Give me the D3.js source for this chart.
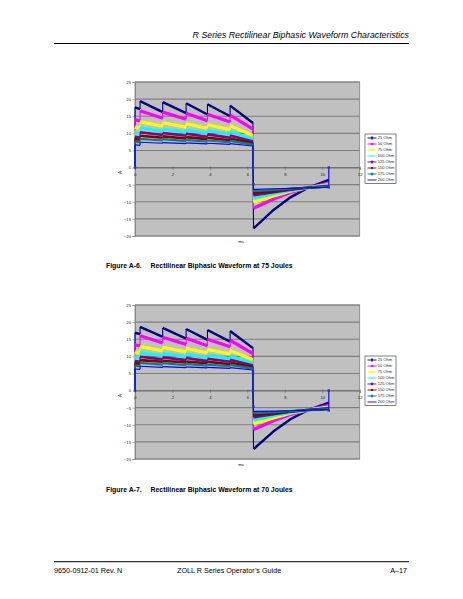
<!DOCTYPE html>
<html>
<head>
<meta charset="utf-8">
<script src="https://cdn.jsdelivr.net/npm/d3@7"></script>
<style>
  body { margin: 0; background: #fff; }
  svg { display: block; font-family: "Liberation Sans", Arial, sans-serif; }
</style>
</head>
<body>
<div id="page"></div>
<script>
// Series and axis data
const seriesNames = ["25 Ohm", "50 Ohm", "75 Ohm", "100 Ohm", "125 Ohm", "150 Ohm", "175 Ohm", "200 Ohm"];
const xTicks = [0, 2, 4, 6, 8, 10, 12];
const yTicks = [25, 20, 15, 10, 5, 0, -5, -10, -15, -20];

// vertex times (ms) of the positive phase sawtooth and of the negative phase
const posTimes = [0, 0.27, 0.27, 1.48, 1.48, 2.73, 2.73, 3.87, 3.87, 5.08, 5.08, 6.3];
const negTimes = [6.33, 7.4, 8.3, 9.2, 10.35];

// 75 Joules, current (A) at each vertex
const pos75 = [
  [17.6, 17.1, 19.4, 16.2, 19.1, 15.9, 18.8, 15.5, 18.5, 15.0, 18.1, 13.0],
  [14.0, 13.6, 16.6, 14.4, 16.2, 14.1, 15.9, 13.7, 15.6, 13.3, 15.3, 11.2],
  [11.8, 11.5, 13.4, 12.1, 13.1, 11.8, 12.8, 11.5, 12.5, 11.1, 12.2, 9.4],
  [10.2, 10.0, 11.6, 10.6, 11.3, 10.3, 11.0, 10.0, 10.8, 9.7, 10.5, 8.3],
  [9.0, 8.8, 10.3, 9.5, 10.1, 9.3, 9.9, 9.0, 9.7, 8.7, 9.4, 7.6],
  [8.3, 8.1, 9.3, 8.7, 9.1, 8.5, 8.9, 8.3, 8.7, 8.0, 8.5, 7.1],
  [7.5, 7.4, 8.4, 7.9, 8.3, 7.7, 8.1, 7.6, 7.9, 7.4, 7.8, 6.7],
  [6.6, 6.5, 7.4, 7.1, 7.3, 7.0, 7.2, 6.9, 7.1, 6.8, 7.0, 6.3],
];
const neg75 = [
  [-17.8, -12.4, -8.7, -6.0, -3.6],
  [-11.9, -9.2, -7.3, -5.9, -4.6],
  [-10.1, -8.3, -6.9, -5.9, -5.0],
  [-9.0, -7.7, -6.7, -5.9, -5.2],
  [-8.1, -7.2, -6.5, -5.9, -5.4],
  [-7.5, -6.9, -6.3, -5.9, -5.5],
  [-6.9, -6.5, -6.2, -5.9, -5.6],
  [-6.4, -6.2, -6.1, -5.9, -5.8],
];
const marks75 = [[0, 0], [6.3, 5.2], [6.3, 0], [6.33, -4.9], [10.35, -5.8], [10.35, 0]];

// 70 Joules
const pos70 = [
  [16.9, 16.5, 18.6, 15.7, 18.3, 15.2, 18.0, 14.8, 17.7, 14.3, 17.4, 12.4],
  [13.4, 13.0, 16.0, 13.9, 15.6, 13.5, 15.3, 13.1, 15.0, 12.8, 14.7, 10.8],
  [11.3, 11.0, 12.9, 11.6, 12.6, 11.3, 12.3, 11.0, 12.0, 10.7, 11.7, 9.0],
  [9.8, 9.6, 11.1, 10.2, 10.9, 9.9, 10.6, 9.6, 10.4, 9.3, 10.1, 8.0],
  [8.6, 8.4, 9.9, 9.1, 9.7, 8.9, 9.5, 8.6, 9.3, 8.4, 9.0, 7.3],
  [8.0, 7.8, 8.9, 8.4, 8.7, 8.2, 8.5, 8.0, 8.4, 7.7, 8.2, 6.8],
  [7.2, 7.1, 8.1, 7.6, 8.0, 7.4, 7.8, 7.3, 7.6, 7.1, 7.5, 6.4],
  [6.3, 6.2, 7.1, 6.8, 7.0, 6.7, 6.9, 6.6, 6.8, 6.5, 6.7, 6.0],
];
const neg70 = [
  [-17.1, -11.9, -8.4, -5.8, -3.5],
  [-11.4, -8.8, -7.0, -5.7, -4.4],
  [-9.7, -8.0, -6.6, -5.7, -4.8],
  [-8.6, -7.4, -6.4, -5.7, -5.0],
  [-7.8, -6.9, -6.2, -5.7, -5.2],
  [-7.2, -6.6, -6.1, -5.7, -5.3],
  [-6.6, -6.3, -6.0, -5.7, -5.4],
  [-6.1, -6.0, -5.9, -5.7, -5.6],
];
const marks70 = [[0, 0], [6.3, 5.5], [6.3, 0], [6.33, -4.7], [10.35, -5.8], [10.35, 0]];

// Excel-style look
const colors = ["#000080", "#ff00ff", "#ffff00", "#00ffff", "#800080", "#800000", "#008080", "#0000ff"];
const widths = [2.4, 3.2, 3.2, 3, 2.6, 2.6, 2.2, 1.2];
const markerTypes = [d3.symbolDiamond, d3.symbolSquare, d3.symbolTriangle, d3.symbolX, d3.symbolStar, d3.symbolCircle, d3.symbolCross, null];

const W = 463, H = 599;
const svg = d3.select("#page").append("svg").attr("width", W).attr("height", H);

// Page header
svg.append("text")
  .attr("x", 409).attr("y", 38)
  .attr("text-anchor", "end")
  .style("font-size", "8.8px").style("font-style", "italic")
  .text("R Series Rectilinear Biphasic Waveform Characteristics");
svg.append("line").attr("x1", 54).attr("x2", 409).attr("y1", 43.5).attr("y2", 43.5)
  .attr("stroke", "#000").attr("stroke-width", 1);

function drawChart(top, pos, neg, marks, legendTop, caption, captionY) {
  const x = d3.scaleLinear().domain([0, 12]).range([135, 359.7]);
  const y = d3.scaleLinear().domain([-20, 25]).range([top + 154, top]);
  const g = svg.append("g");

  // plot area
  g.append("rect")
    .attr("x", x(0)).attr("y", y(25))
    .attr("width", x(12) - x(0)).attr("height", y(-20) - y(25))
    .attr("fill", "#c0c0c0").attr("stroke", "#808080").attr("stroke-width", 0.8);

  // gridlines
  g.selectAll(".grid").data(yTicks).enter().append("line")
    .attr("x1", x(0)).attr("x2", x(12))
    .attr("y1", (d) => y(d)).attr("y2", (d) => y(d))
    .attr("stroke", "#7f7f7f").attr("stroke-width", 1.1);

  // y axis
  const yAxis = g.append("g")
    .attr("transform", `translate(${x(0)},0)`)
    .call(d3.axisLeft(y).tickValues(yTicks).tickSize(2.5).tickPadding(1.5));
  yAxis.select(".domain").attr("stroke", "#808080").attr("stroke-width", 0.8);
  yAxis.selectAll(".tick line").attr("stroke", "#808080").attr("stroke-width", 0.6);
  yAxis.selectAll("text").style("font-size", "4.2px").style("fill", "#222")
    .style("font-family", "Liberation Sans, Arial, sans-serif");

  // x axis across y = 0
  const xAxis = g.append("g")
    .attr("transform", `translate(0,${y(0)})`)
    .call(d3.axisBottom(x).tickValues(xTicks).tickSize(2.5).tickPadding(2.5));
  xAxis.select(".domain").attr("stroke", "#666").attr("stroke-width", 0.8);
  xAxis.selectAll(".tick line").attr("stroke", "#666").attr("stroke-width", 0.6)
    .attr("y1", -1.2);
  xAxis.selectAll("text").style("font-size", "4.2px").style("fill", "#222")
    .style("font-family", "Liberation Sans, Arial, sans-serif");

  // axis titles
  g.append("text")
    .attr("transform", `translate(122,${y(0) + 5}) rotate(-90)`)
    .attr("text-anchor", "middle")
    .style("font-size", "4.5px").text("A");
  g.append("text")
    .attr("x", 241).attr("y", top + 161)
    .attr("text-anchor", "middle")
    .style("font-size", "4.2px").text("ms");

  // series: vertices, then split into segments (vertical jumps drawn thin)
  const seriesPts = seriesNames.map((name, i) => {
    const pts = [
      [0, 0],
      ...posTimes.map((t, j) => [t, pos[i][j]]),
      [6.3, 0],
      ...negTimes.map((t, j) => [t, neg[i][j]]),
    ];
    if (i === seriesNames.length - 1) pts.push([10.35, 0]);
    return pts;
  });

  seriesPts.forEach((pts, i) => {
    const sg = g.append("g");
    const slanted = [];
    let run = [pts[0]];
    const verticals = [];
    for (let k = 1; k < pts.length; k++) {
      const dt = Math.abs(pts[k][0] - pts[k - 1][0]);
      if (dt < 0.06) {
        verticals.push([pts[k - 1], pts[k]]);
        if (run.length > 1) slanted.push(run);
        run = [pts[k]];
      } else {
        run.push(pts[k]);
      }
    }
    if (run.length > 1) slanted.push(run);

    const line = d3.line().x((d) => x(d[0])).y((d) => y(d[1]));
    sg.selectAll(".v").data(verticals).enter().append("path")
      .attr("d", line)
      .attr("fill", "none")
      .attr("stroke", colors[i])
      .attr("stroke-width", Math.min(widths[i], 1.1));
    sg.selectAll(".s").data(slanted).enter().append("path")
      .attr("d", line)
      .attr("fill", "none")
      .attr("stroke", colors[i])
      .attr("stroke-width", widths[i])
      .attr("stroke-linejoin", "round");
  });

  // markers of the 200 Ohm series at phase transitions
  g.selectAll(".mark").data(marks).enter().append("rect")
    .attr("x", (d) => x(d[0]) - 1.2).attr("y", (d) => y(d[1]) - 1.2)
    .attr("width", 2.4).attr("height", 2.4)
    .attr("fill", "#3030c0");

  // legend
  const lg = g.append("g").attr("transform", `translate(365,${legendTop})`);
  lg.append("rect")
    .attr("width", 31).attr("height", 49.5)
    .attr("fill", "#fff").attr("stroke", "#000").attr("stroke-width", 0.5);
  const item = lg.selectAll(".item").data(seriesNames).enter().append("g")
    .attr("transform", (d, i) => `translate(0,${4 + i * 6})`);
  item.append("line")
    .attr("x1", 2.5).attr("x2", 11.5)
    .attr("stroke", (d, i) => colors[i]).attr("stroke-width", 0.9);
  item.filter((d, i) => markerTypes[i] !== null).append("path")
    .attr("transform", "translate(7,0)")
    .attr("d", (d) => d3.symbol(markerTypes[seriesNames.indexOf(d)], 3.2)())
    .attr("fill", (d) => colors[seriesNames.indexOf(d)])
    .attr("stroke", (d) => colors[seriesNames.indexOf(d)])
    .attr("stroke-width", 0.4);
  item.append("text")
    .attr("x", 12.8).attr("dy", "0.35em")
    .style("font-size", "4px").style("fill", "#222")
    .text((d) => d);

  // caption
  const cap = svg.append("text").attr("y", captionY)
    .style("font-size", "6.9px").style("font-weight", "bold");
  cap.append("tspan").attr("x", 106).text(caption[0]);
  cap.append("tspan").attr("x", 150.5).text(caption[1]);
}

drawChart(82, pos75, neg75, marks75, 134, ["Figure A-6.", "Rectilinear Biphasic Waveform at 75 Joules"], 268);
drawChart(305, pos70, neg70, marks70, 356, ["Figure A-7.", "Rectilinear Biphasic Waveform at 70 Joules"], 491.5);

// Page footer
svg.append("line").attr("x1", 54).attr("x2", 409).attr("y1", 561.7).attr("y2", 561.7)
  .attr("stroke", "#000").attr("stroke-width", 1);
const foot = svg.append("g").style("font-size", "7.2px");
foot.append("text").attr("x", 54).attr("y", 573).text("9650-0912-01 Rev. N");
foot.append("text").attr("x", 177).attr("y", 573).text("ZOLL R Series Operator\u2019s Guide");
foot.append("text").attr("x", 407).attr("y", 573).attr("text-anchor", "end").text("A\u201317");
</script>
</body>
</html>
